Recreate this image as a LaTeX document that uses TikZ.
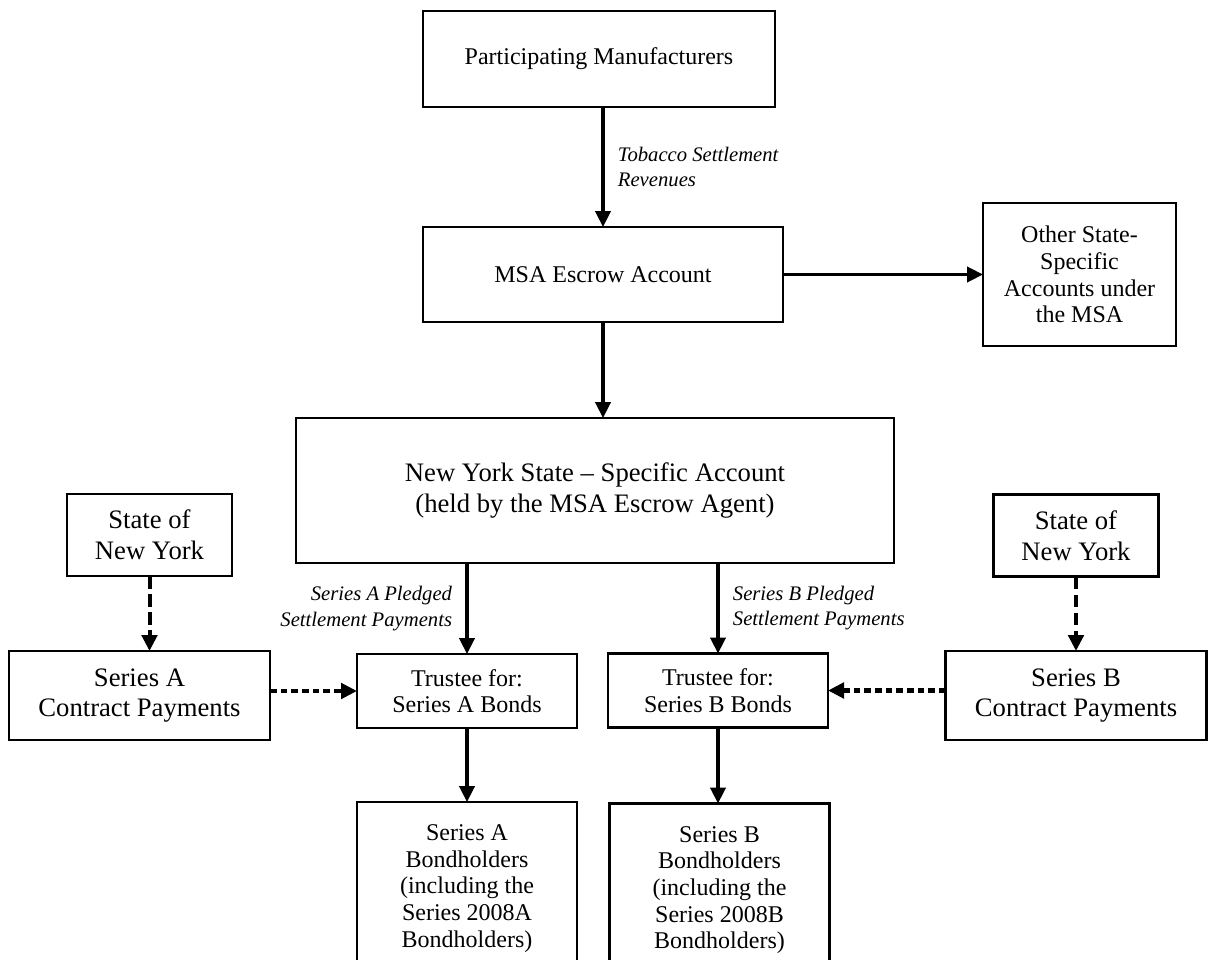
\documentclass[tikz,border=0pt]{standalone}
\usepackage{fontspec}
\setmainfont{Liberation Serif}
\usetikzlibrary{arrows.meta}
\begin{document}
\begin{tikzpicture}[x=0.75pt,y=-0.75pt,
    box/.style={draw,line width=2pt,inner sep=0pt,outer sep=0pt,align=center,
      font=\fontsize{18}{20}\selectfont},
    bigbox/.style={box,font=\fontsize{20}{23}\selectfont},
    flow/.style={line width=2.4pt,-{Triangle[length=12pt,width=11.5pt]}},
    aside/.style={flow,line width=3pt,dash pattern=on 9.5pt off 4pt},
    feed/.style={flow,line width=3.6pt,dash pattern=on 5pt off 3pt},
    lbl/.style={font=\fontsize{15.5}{19}\selectfont\itshape,inner sep=10pt}]
  \useasboundingbox (0,0) rectangle (1208,960);
  % top chain
  \node[box,minimum width=264pt,minimum height=72pt] (pm) at (599,59) {Participating Manufacturers};
  \node[box,minimum width=270pt,minimum height=71.25pt] (msa) at (603,274.5) {MSA Escrow Account};
  \node[box,minimum width=144.75pt,minimum height=107.25pt] (other) at (1079.5,274.5)
    {Other State-\\Specific\\Accounts under\\the MSA};
  \node[bigbox,minimum width=448.5pt,minimum height=108.75pt] (nys) at (595,490.5)
    {New York State -- Specific Account\\(held by the MSA Escrow Agent)};
  % state and contract payments, left and right
  \node[bigbox,minimum width=123.75pt,minimum height=61.5pt] (stateA) at (149.5,535) {State of\\New York};
  \node[bigbox,minimum width=123.75pt,minimum height=61.5pt] (stateB) at (1076,535.5) {State of\\New York};
  \node[bigbox,minimum width=195.75pt,minimum height=66.75pt] (contractA) at (139.5,695.5) {Series A\\Contract Payments};
  \node[bigbox,minimum width=195.75pt,minimum height=66.75pt] (contractB) at (1076,695.5) {Series B\\Contract Payments};
  % trustees and bondholders
  \node[box,minimum width=165pt,minimum height=55.5pt] (trA) at (467,691) {Trustee for:\\Series A Bonds};
  \node[box,minimum width=165pt,minimum height=55.5pt] (trB) at (718,690.5) {Trustee for:\\Series B Bonds};
  \node[box,minimum width=165pt,minimum height=129.75pt] (bondA) at (467,888.5)
    {Series A\\Bondholders\\(including the\\Series 2008A\\Bondholders)};
  \node[box,minimum width=165pt,minimum height=129.75pt] (bondB) at (719.5,890)
    {Series B\\Bondholders\\(including the\\Series 2008B\\Bondholders)};
  % flows
  \draw[flow] (pm.south -| msa.north) -- node[lbl,right,align=left] {Tobacco Settlement\\Revenues} (msa.north);
  \draw[flow] (msa.east) -- (other.west);
  \draw[flow] (msa.south) -- (msa.south |- nys.north);
  \draw[flow] (nys.south -| trA.north) -- node[lbl,left,align=right] {Series A Pledged\\Settlement Payments} (trA.north);
  \draw[flow] (nys.south -| trB.north) -- node[lbl,right,align=left] {Series B Pledged\\Settlement Payments} (trB.north);
  \draw[flow] (trA.south) -- (trA.south |- bondA.north);
  \draw[flow] (trB.south) -- (trB.south |- bondB.north);
  % contract payments (dashed)
  \draw[aside] (stateA.south) -- (stateA.south |- contractA.north);
  \draw[aside] (stateB.south) -- (stateB.south |- contractB.north);
  \draw[feed] (trA.west -| contractA.east) -- (trA.west);
  \draw[feed] (trB.east -| contractB.west) -- (trB.east);
\end{tikzpicture}
\end{document}
